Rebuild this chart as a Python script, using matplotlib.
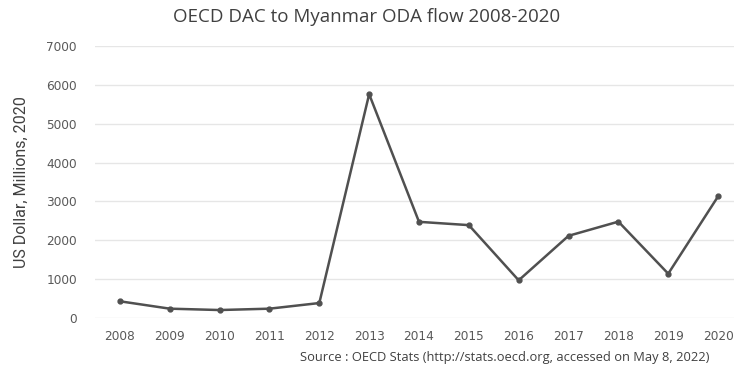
import numpy as np
from matplotlib import pyplot as plt

# data
years = ['2008', '2009', '2010', '2011', '2012', '2013', '2014',
         '2015', '2016', '2017', '2018', '2019', '2020']
oda = [430, 240, 205, 240, 385, 5760, 2475, 2390, 970, 2115, 2480, 1140, 3130]
yticks = [0, 1000, 2000, 3000, 4000, 5000, 6000, 7000]

fig = plt.figure(figsize=(7.34, 3.65), dpi=100)
# axes runs a little past the right edge like the original
ax = fig.add_axes([95/734, 47/365, 648/734, 272/365])

x = np.arange(len(years))
ax.plot(x, oda, color='#505050', linewidth=1.8, marker='o', markersize=3.5)

ax.set_xlim(-0.5, len(years) - 0.5)
ax.set_ylim(0, 7000)
ax.set_xticks(x)
ax.set_xticklabels(years)
ax.set_yticks(yticks)
ax.grid(axis='y', color='#e6e6e6', linewidth=1)
ax.set_axisbelow(True)
for s in ax.spines.values():
    s.set_visible(False)
ax.tick_params(length=0, labelsize=8.7, labelcolor='#595959', pad=9)
ax.tick_params(axis='y', pad=13)

fig.text(0.5, 0.953, 'OECD DAC to Myanmar ODA flow 2008-2020',
         ha='center', va='center', fontsize=13.5, color='#404040', family='Open Sans')
fig.text(0.029, 0.5, 'US Dollar, Millions, 2020', rotation=90,
         ha='center', va='center', fontsize=11.5, color='#404040', family='Roboto',
         fontstretch='condensed')
fig.text(0.966, 0.02, 'Source : OECD Stats (http://stats.oecd.org, accessed on May 8, 2022)',
         ha='right', va='center', fontsize=9.3, color='#404040', family='Open Sans')

fig.savefig('out.png', dpi=100)
